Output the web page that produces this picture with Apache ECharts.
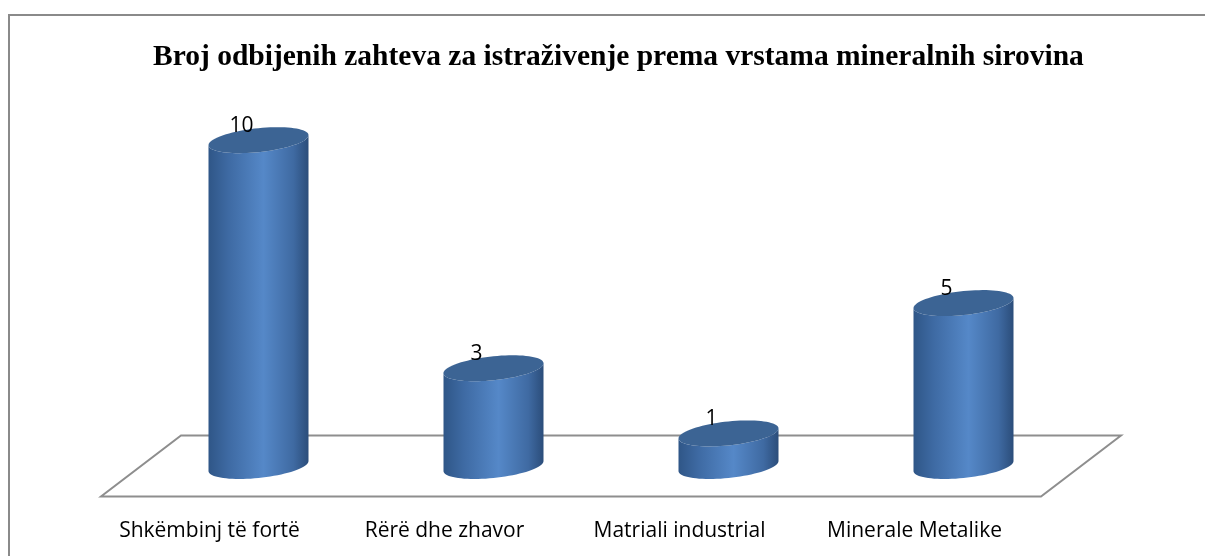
<!DOCTYPE html>
<html>
<head>
<meta charset="utf-8">
<title>Broj odbijenih zahteva</title>
<script src="https://cdn.jsdelivr.net/npm/echarts@6/dist/echarts.min.js"></script>
<style>
  html, body { margin: 0; padding: 0; background: #fff; }
  #chart { width: 1205px; height: 556px; }
</style>
</head>
<body>
<div id="chart"></div>
<script>
const categories = ['Shkëmbinj të fortë', 'Rërë dhe zhavor', 'Matriali industrial', 'Minerale Metalike'];
const values = [10, 3, 1, 5];

// cylinder look
const barHalf = 50;     // half width of a cylinder in px
const capRy = 12;       // vertical radius of the ellipses
const capTilt = 5;      // left side of ellipse sits lower
const floorDx = 40, floorDy = 30.5;

function ellipsePt(cx, cy, t) {
  return [cx + barHalf * Math.cos(t), cy + capRy * Math.sin(t) - capTilt * Math.cos(t)];
}

function renderCylinder(params, api) {
  const i = api.value(0);
  const v = api.value(1);
  const base = api.coord([i, 0]);
  const top = api.coord([i, v]);
  const cx = base[0];
  const steps = 40;
  // body outline: right side down, front of bottom ellipse, left side up, front of top ellipse
  let body = [];
  body.push([cx + barHalf, top[1] - capTilt]);
  for (let s = 0; s <= steps; s++) {
    body.push(ellipsePt(cx, base[1], Math.PI * s / steps));
  }
  for (let s = 0; s <= steps; s++) {
    body.push(ellipsePt(cx, top[1], Math.PI - Math.PI * s / steps));
  }
  let cap = [];
  for (let s = 0; s < steps * 2; s++) {
    cap.push(ellipsePt(cx, top[1], Math.PI * s / steps));
  }
  return {
    type: 'group',
    children: [
      {
        type: 'polygon',
        shape: { points: body },
        style: {
          fill: new echarts.graphic.LinearGradient(0, 0, 1, 0, [
            { offset: 0, color: '#2f5687' },
            { offset: 0.2, color: '#3e6aa3' },
            { offset: 0.55, color: '#5588c8' },
            { offset: 0.85, color: '#3f6aa2' },
            { offset: 1, color: '#2b4d7a' }
          ])
        }
      },
      {
        type: 'polygon',
        shape: { points: cap },
        style: { fill: '#3c6494' }
      },
      {
        type: 'text',
        x: cx - 17,
        y: top[1] - 14,
        style: {
          text: String(v),
          fill: '#000',
          font: '21px "Open Sans", sans-serif',
          align: 'center',
          verticalAlign: 'middle'
        }
      }
    ]
  };
}

function renderFloor(params, api) {
  const cs = params.coordSys;
  const y0 = api.coord([0, 0])[1];
  const l = cs.x, r = cs.x + cs.width;
  return {
    type: 'polygon',
    shape: {
      points: [
        [l + floorDx, y0 - floorDy],
        [r + floorDx, y0 - floorDy],
        [r - floorDx, y0 + floorDy],
        [l - floorDx, y0 + floorDy]
      ]
    },
    style: { fill: 'none', stroke: '#8e8e8e', lineWidth: 2 }
  };
}

let myChart = echarts.init(document.getElementById('chart'), null, { renderer: 'canvas' });
let option = {
  animation: false,
  title: {
    text: 'Broj odbijenih zahteva za istraživenje prema vrstama mineralnih sirovina',
    left: 148,
    top: 37,
    textStyle: {
      fontFamily: '"Liberation Serif", serif',
      fontWeight: 'bold',
      fontSize: 29.5,
      color: '#000'
    }
  },
  graphic: [{
    type: 'rect',
    shape: { x: 9, y: 15, width: 1400, height: 800 },
    style: { fill: 'none', stroke: '#8a8a8a', lineWidth: 2 },
    z: -1
  }],
  grid: { left: 141, width: 940, top: 75, bottom: 90 },
  xAxis: {
    type: 'category',
    data: categories,
    axisLine: { show: false },
    axisTick: { show: false },
    axisLabel: {
      margin: 55,
      padding: [0, 98, 0, 0],
      fontFamily: '"Open Sans", sans-serif',
      fontSize: 21,
      color: '#000'
    }
  },
  yAxis: {
    type: 'value',
    min: 0,
    max: 12,
    interval: 2,
    show: false,
    splitLine: { show: false }
  },
  series: [
    {
      type: 'custom',
      renderItem: renderFloor,
      data: [[0, 0]],
      z: 1
    },
    {
      type: 'custom',
      renderItem: renderCylinder,
      data: values.map((v, i) => [i, v]),
      z: 2
    }
  ]
};
myChart.setOption(option);
</script>
</body>
</html>
